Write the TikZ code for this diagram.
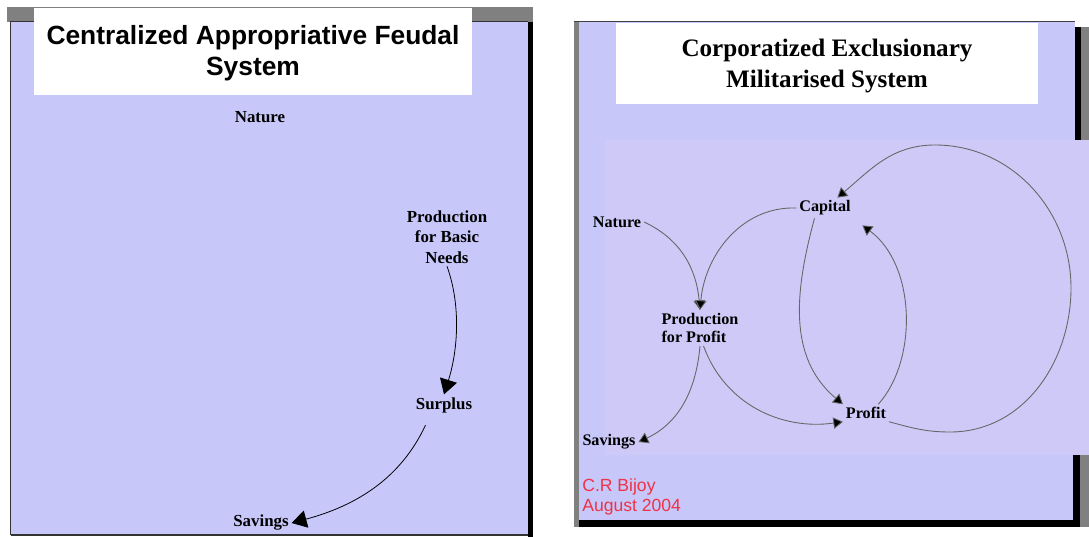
\documentclass[tikz,border=0pt]{standalone}
\usepackage{fontspec}
\setmainfont{Liberation Serif}
\newfontfamily\arialfont{Liberation Sans}
\usepackage{xcolor}
\usepackage{tikz}
\usetikzlibrary{arrows.meta, positioning, calc}
\definecolor{panelblue}{RGB}{199, 199, 250}
\definecolor{panelmid}{RGB}{207, 201, 247}
\definecolor{framegray}{RGB}{128, 128, 128}
\definecolor{signred}{RGB}{240, 50, 70}

\begin{document}
\begin{tikzpicture}[x=0.02cm, y=-0.02cm,
    lbl/.style={font=\fontsize{9.6}{11.6}\selectfont\bfseries, inner sep=1.5pt},
    rlbl/.style={font=\fontsize{9.2}{10.6}\selectfont\bfseries, inner sep=1.5pt},
    bigarr/.style={-{Triangle[length=8.5pt, width=10pt]}, black, line width=0.45pt},
    smallarr/.style={-{Triangle[length=5.5pt, width=6.5pt, fill=black]}, draw=black!60, line width=0.5pt}]
    \useasboundingbox (0, 0) rectangle (1089, 537);

    % 左图：框
    \fill[framegray] (7, 7) rectangle (533, 22);
    \fill[panelblue] (10, 21) rectangle (528, 535);
    \draw[black!80, line width=0.6pt] (10.5, 535) -- (10.5, 21.5) -- (528, 21.5);
    \draw[black!80, line width=0.6pt] (10.5, 535) -- (528, 535);
    \fill[black] (528, 22) rectangle (533, 537);
    \fill[white] (34, 8) rectangle (472, 95);
    \node[font=\arialfont\fontsize{15}{17.6}\selectfont\bfseries, align=center] (ttl1) at (253, 53)
        {Centralized Appropriative Feudal\\System};

    % 左图：节点
    \node[lbl] (nat1) at (260, 117) {Nature};
    \node[lbl, align=center] (pbn) at (447, 237) {Production\\for Basic\\Needs};
    \node[lbl] (sur) at (444, 405) {Surplus};
    \node[lbl] (sav1) at (261, 523) {Savings};

    % 左图：箭头
    \draw[bigarr] (pbn.south) .. controls (461, 305) and (458, 350) .. (sur.north);
    \draw[bigarr, shorten <=6pt] ([xshift=-8pt]sur.south) to[out=-115, in=15] (sav1.east);

    % 右图：框
    \fill[framegray] (574, 21) rectangle (579, 527);
    \fill[panelblue] (579, 22) rectangle (1075, 520);
    \fill[panelmid] (605, 140) rectangle (1089, 455);
    \draw[black!75, line width=0.6pt] (574, 21.5) -- (1075, 21.5);
    \fill[black] (579, 520) rectangle (1080, 527);
    \fill[black] (1075, 27) rectangle (1081, 140);
    \fill[framegray] (1081, 27) rectangle (1089, 140);
    \fill[black] (1073, 455) rectangle (1080, 527);
    \fill[framegray] (1080, 455) rectangle (1089, 527);
    \fill[white] (616, 23) rectangle (1038, 104);
    \node[font=\fontsize{14.3}{17.6}\selectfont\bfseries, align=center] (ttl2) at (827, 66)
        {Corporatized Exclusionary\\Militarised System};

    % 右图：节点
    \node[rlbl] (cap) at (825, 208) {Capital};
    \node[rlbl] (nat2) at (617, 222) {Nature};
    \node[rlbl, align=left] (pfp) at (700, 328) {Production\\for Profit};
    \node[rlbl] (prf) at (866, 413) {Profit};
    \node[rlbl] (sav2) at (609, 442) {Savings};
    \node[font=\arialfont\fontsize{10}{11.4}\selectfont, text=signred, align=left, anchor=west, inner sep=0pt]
        (sig) at (582, 497) {C.R Bijoy\\August 2004};

    % 大圆的经过点
    \coordinate (bb) at (950, 432);
    \coordinate (br) at (1071, 288);
    \coordinate (bt) at (935, 145);

    % 右图：箭头
    \draw[smallarr] (nat2.east) to[out=-25, in=95] (pfp.north);
    \draw[smallarr] (cap.west) to[out=178, in=85] (pfp.north);
    \draw[smallarr] ([xshift=2pt]pfp.south) to[out=-70, in=188] (prf.south west);
    \draw[smallarr] (pfp.south) to[out=-95, in=25] (sav2.east);
    \draw[smallarr] ([xshift=-6pt]cap.south) to[out=-105, in=140] (prf.north west);
    \draw[smallarr] ([xshift=7pt]prf.north) .. controls (918, 360) and (916, 265)
        .. ([shift={(5pt,-4pt)}]cap.south east);
    \draw[smallarr] (prf.south east) to[out=-15, in=180] (bb) to[out=0, in=-90] (br)
        to[out=90, in=0] (bt) to[out=180, in=40] ([xshift=7pt]cap.north);
\end{tikzpicture}
\end{document}
